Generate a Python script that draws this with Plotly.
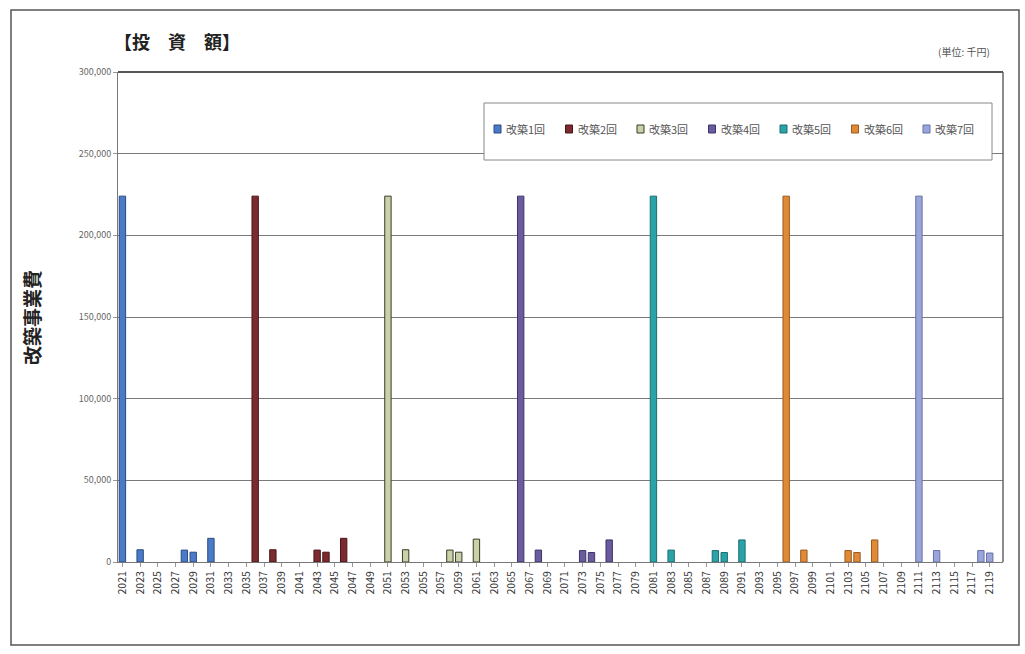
import plotly.graph_objects as go

# ---- data ----
categories = [str(y) for y in range(2021, 2121)]
tick_labels = [str(y) for y in range(2021, 2120, 2)]

series_names = ["改築1回", "改築2回", "改築3回", "改築4回", "改築5回", "改築6回", "改築7回"]

s1_years = ["2021", "2023", "2028", "2029", "2031"]
s1_values = [224000, 7500, 7300, 6000, 14500]
s2_years = ["2036", "2038", "2043", "2044", "2046"]
s2_values = [224000, 7500, 7300, 6000, 14500]
s3_years = ["2051", "2053", "2058", "2059", "2061"]
s3_values = [224000, 7500, 7300, 6000, 14000]
s4_years = ["2066", "2068", "2073", "2074", "2076"]
s4_values = [224000, 7300, 7000, 5800, 13500]
s5_years = ["2081", "2083", "2088", "2089", "2091"]
s5_values = [224000, 7300, 7000, 5800, 13500]
s6_years = ["2096", "2098", "2103", "2104", "2106"]
s6_values = [224000, 7300, 7000, 5800, 13500]
s7_years = ["2111", "2113", "2118", "2119"]
s7_values = [224000, 7000, 7000, 5500]

y_ticks = [0, 50000, 100000, 150000, 200000, 250000, 300000]

fills = ["#4a7bc8", "#7b2a30", "#c9d1a6", "#6a5a9e", "#2aa3a8", "#e08a35", "#9aa6da"]
lines = ["#2c4a80", "#4a1518", "#3a3a2a", "#3e3466", "#1c6f72", "#9a5a20", "#6470a8"]

all_x = [s1_years, s2_years, s3_years, s4_years, s5_years, s6_years, s7_years]
all_y = [s1_values, s2_values, s3_values, s4_values, s5_values, s6_values, s7_values]

fig = go.Figure()
for name, xs, ys, fc, lc in zip(series_names, all_x, all_y, fills, lines):
    fig.add_trace(go.Bar(
        x=xs, y=ys, name=name, showlegend=False,
        marker=dict(color=fc, line=dict(color=lc, width=1)),
    ))

L, R, T, B = 118, 22, 72, 92
W, H = 1025, 654
pw, ph = W - L - R, H - T - B

def px(x):
    return (x - L) / pw

def py(y):
    return (H - B - y) / ph

shapes = [
    dict(type="rect", xref="paper", yref="paper",
         x0=px(11), x1=px(1019), y0=py(645), y1=py(10),
         line=dict(color="#555", width=1.5), fillcolor="rgba(0,0,0,0)", layer="below"),
    dict(type="rect", xref="paper", yref="paper",
         x0=px(484), x1=px(992), y0=py(160), y1=py(103),
         line=dict(color="#888", width=1), fillcolor="white", layer="above"),
    dict(type="line", xref="paper", yref="paper",
         x0=0, x1=1, y0=1, y1=1, line=dict(color="#555", width=2)),
    dict(type="line", xref="paper", yref="paper",
         x0=1, x1=1, y0=0, y1=1, line=dict(color="#666", width=1.5)),
]

annotations = [
    dict(text="<b>【投　資　額】</b>", xref="paper", yref="paper",
         x=px(112), y=py(41), xanchor="left", yanchor="middle",
         showarrow=False, font=dict(size=18, color="#222")),
    dict(text="(単位: 千円)", xref="paper", yref="paper",
         x=px(992), y=py(52), xanchor="right", yanchor="middle",
         showarrow=False, font=dict(size=10, color="#555")),
    dict(text="<b>改築事業費</b>", xref="paper", yref="paper",
         x=px(31), y=py(318), xanchor="center", yanchor="middle",
         textangle=-90, showarrow=False, font=dict(size=19, color="#222")),
]

# custom legend (one row inside the framed box)
leg_x0, leg_step, leg_y = 494, 71.5, 129
for i, (name, fc, lc) in enumerate(zip(series_names, fills, lines)):
    x0 = leg_x0 + i * leg_step
    shapes.append(dict(type="rect", xref="paper", yref="paper",
                       x0=px(x0), x1=px(x0 + 7), y0=py(leg_y + 4), y1=py(leg_y - 4),
                       line=dict(color=lc, width=1), fillcolor=fc, layer="above"))
    annotations.append(dict(text=name, xref="paper", yref="paper",
                            x=px(x0 + 10), y=py(leg_y), xanchor="left", yanchor="middle",
                            showarrow=False, font=dict(size=11, color="#555")))

fig.update_layout(
    width=W, height=H,
    margin=dict(l=L, r=R, t=T, b=B, autoexpand=False),
    paper_bgcolor="white", plot_bgcolor="white",
    barmode="overlay", bargap=0.28,
    font=dict(family="Noto Sans CJK JP, DejaVu Sans", color="#333"),
    showlegend=False,
    xaxis=dict(
        type="category", categoryorder="array", categoryarray=categories,
        range=[-0.5, len(categories) - 0.5],
        tickmode="array", tickvals=tick_labels, ticktext=tick_labels,
        tickangle=-90, tickfont=dict(size=10.5, color="#333"),
        showline=True, linecolor="#777", linewidth=1,
        ticks="outside", ticklen=4, tickcolor="#999",
        showgrid=False, fixedrange=True,
    ),
    yaxis=dict(
        range=[0, 300000], tickvals=y_ticks, tickformat=",",
        tickfont=dict(size=9, color="#666"),
        showgrid=True, gridcolor="#7a7a7a", gridwidth=1,
        showline=True, linecolor="#777", linewidth=1,
        ticks="outside", ticklen=4, tickcolor="#999",
        zeroline=False, fixedrange=True,
    ),
    shapes=shapes,
    annotations=annotations,
)

fig.write_html("out.html")
